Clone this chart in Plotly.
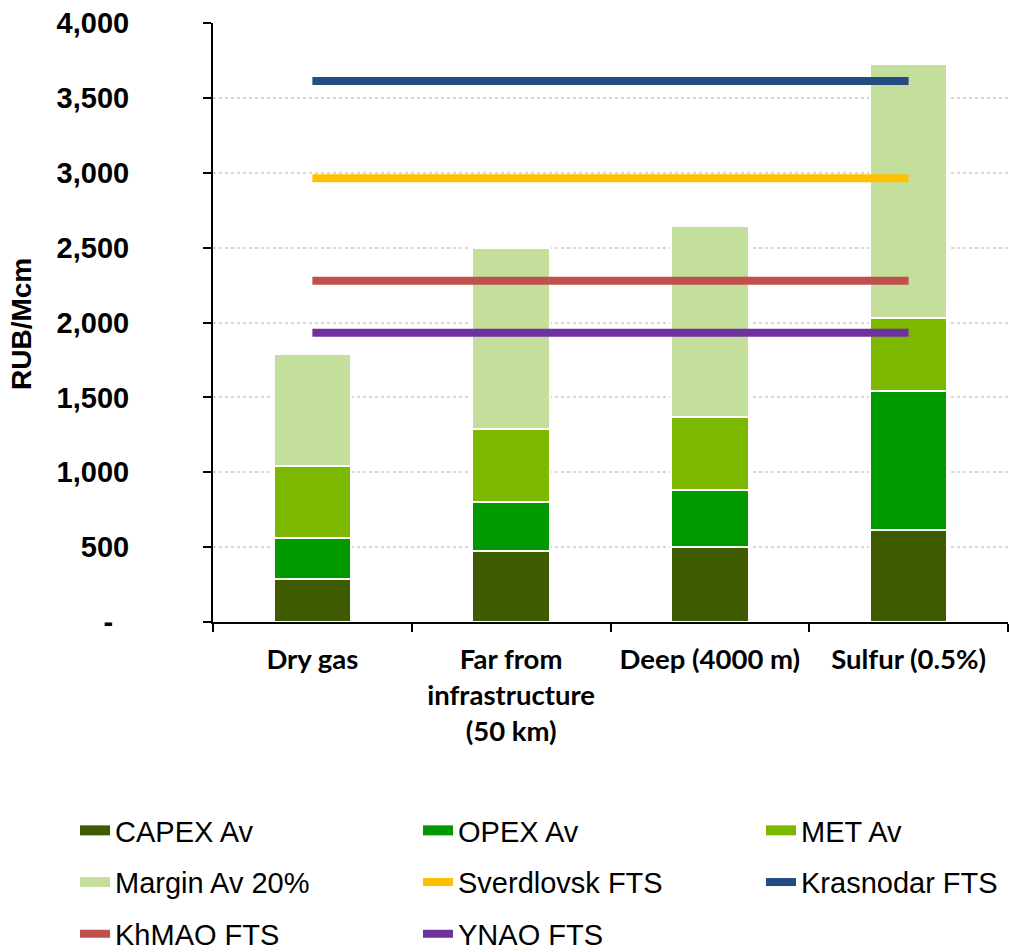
import plotly.graph_objects as go

# ---------------- data ----------------
categories = ["Dry gas", "Far from<br>infrastructure<br>(50 km)", "Deep (4000 m)", "Sulfur (0.5%)"]
capex_av = [288, 471, 499, 615]
opex_av = [275, 333, 385, 926]
met_av = [479, 485, 488, 488]
margin_av = [749, 1206, 1275, 1699]

sverdlovsk_fts = 2963
krasnodar_fts = 3612
khmao_fts = 2279
ynao_fts = 1932

y_tick_vals = [0, 500, 1000, 1500, 2000, 2500, 3000, 3500, 4000]
y_tick_text = ["-\u00a0\u00a0", "500", "1,000", "1,500", "2,000", "2,500", "3,000", "3,500", "4,000"]

# ---------------- styles ----------------
C_CAPEX = "#3E5B00"
C_OPEX = "#009900"
C_MET = "#7DB800"
C_MARGIN = "#C4DF9B"
C_SVERD = "#FFC000"
C_KRAS = "#244C80"
C_KHMAO = "#C0504D"
C_YNAO = "#7030A0"

fig = go.Figure()

bar_series = [("CAPEX Av", capex_av, C_CAPEX),
              ("OPEX Av", opex_av, C_OPEX),
              ("MET Av", met_av, C_MET),
              ("Margin Av 20%", margin_av, C_MARGIN)]

for name, vals, col in bar_series:
    fig.add_trace(go.Bar(x=categories, y=vals, name=name, marker_color=col,
                         marker_line=dict(color="white", width=2), showlegend=False))

line_series = [("Sverdlovsk FTS", sverdlovsk_fts, C_SVERD),
               ("Krasnodar FTS", krasnodar_fts, C_KRAS),
               ("KhMAO FTS", khmao_fts, C_KHMAO),
               ("YNAO FTS", ynao_fts, C_YNAO)]
for name, v, col in line_series:
    fig.add_trace(go.Scatter(x=categories, y=[v] * len(categories), mode="lines", name=name,
                             line=dict(color=col, width=8), showlegend=False))

# legend entries, laid out in three columns (legend, legend2, legend3)
legend_entries = [("CAPEX Av", C_CAPEX, 12, "legend"),
                  ("OPEX Av", C_OPEX, 12, "legend2"),
                  ("MET Av", C_MET, 12, "legend3"),
                  ("Margin Av 20%", C_MARGIN, 12, "legend"),
                  ("Sverdlovsk FTS", C_SVERD, 8, "legend2"),
                  ("Krasnodar FTS", C_KRAS, 8, "legend3"),
                  ("KhMAO FTS", C_KHMAO, 8, "legend"),
                  ("YNAO FTS", C_YNAO, 8, "legend2")]
for name, col, w, lg in legend_entries:
    fig.add_trace(go.Scatter(x=[None], y=[None], mode="lines", name=name,
                             legendgroup=name, line=dict(color=col, width=w), legend=lg))

legend_common = dict(orientation="v", traceorder="grouped", tracegroupgap=11,
                     xref="container", yref="container", yanchor="top", xanchor="left",
                     y=(952 - 805) / 952,
                     font=dict(family="Liberation Sans, Arial", size=29, color="black"),
                     bgcolor="rgba(0,0,0,0)")

fig.update_layout(
    width=1009, height=952,
    margin=dict(l=213, r=1, t=23, b=330, autoexpand=False),
    plot_bgcolor="white", paper_bgcolor="white",
    barmode="stack", bargap=0.61,
    legend=dict(**legend_common, x=75 / 1009),
    legend2=dict(**legend_common, x=418 / 1009),
    legend3=dict(**legend_common, x=761 / 1009),
    xaxis=dict(showline=True, linecolor="black", linewidth=2, ticks="outside",
               tickson="boundaries", ticklen=8, tickwidth=2, tickcolor="black",
               showgrid=False, ticklabelstandoff=12, tickangle=0, automargin=False,
               tickfont=dict(family="Lato, Open Sans", size=27.5, color="black", weight="bold")),
    yaxis=dict(range=[0, 4000], tickvals=y_tick_vals, ticktext=y_tick_text,
               showline=True, linecolor="black", linewidth=2, ticks="outside",
               ticklen=8, tickwidth=2, tickcolor="black", automargin=False,
               showgrid=True, gridcolor="#D6D6D6", griddash="dot", gridwidth=1.5,
               zeroline=False, ticklabelstandoff=68,
               tickfont=dict(family="Liberation Sans, Arial", size=29, color="black", weight="bold")),
    annotations=[dict(text="<b>RUB/Mcm</b>", textangle=-90, xref="paper", yref="paper",
                      x=(21 - 213) / 795, y=(622 - 324) / 599, xanchor="center", yanchor="middle",
                      showarrow=False,
                      font=dict(family="Liberation Sans, Arial", size=28, color="black"))],
)

fig.write_html("out.html")
